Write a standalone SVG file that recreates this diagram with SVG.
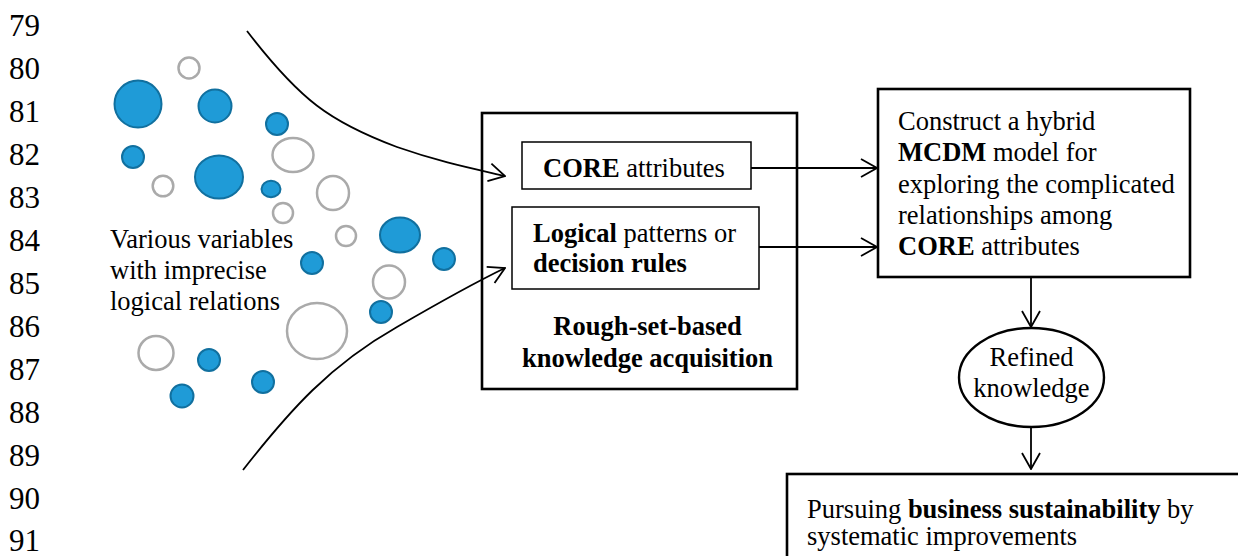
<svg xmlns="http://www.w3.org/2000/svg" width="1238" height="556" viewBox="0 0 1238 556" font-family="'Liberation Serif', 'Times New Roman', 'DejaVu Serif', serif">
  <style>
    text { fill: #000; }
    .ln { font-size: 31px; }
    .t { font-size: 26.5px; }
    .b { font-weight: bold; }
    .dot { fill: #1f9bd7; stroke: #11709f; stroke-width: 2; }
    .ring { fill: none; stroke: #aaaaaa; stroke-width: 2.5; }
    .thick { fill: #fff; stroke: #000; stroke-width: 2.6; }
    .thin { fill: #fff; stroke: #000; stroke-width: 1.5; }
    .conn { fill: none; stroke: #000; stroke-width: 1.8; marker-end: url(#arrow); }
  </style>
  <defs>
    <marker id="arrow" viewBox="0 0 18 20" refX="17" refY="10" markerWidth="18" markerHeight="20" markerUnits="userSpaceOnUse" orient="auto">
      <path d="M1,1 L17,10 L1,19" fill="none" stroke="#000" stroke-width="1.8"/>
    </marker>
  </defs>
  <rect width="1238" height="556" fill="#fff"/>

  <!-- line numbers -->
  <g id="line-numbers" font-family="Liberation Serif, serif">
    <text x="9" y="36" class="ln">79</text>
    <text x="9" y="79" class="ln">80</text>
    <text x="9" y="122" class="ln">81</text>
    <text x="9" y="165" class="ln">82</text>
    <text x="9" y="208" class="ln">83</text>
    <text x="9" y="251" class="ln">84</text>
    <text x="9" y="294" class="ln">85</text>
    <text x="9" y="337" class="ln">86</text>
    <text x="9" y="380" class="ln">87</text>
    <text x="9" y="423" class="ln">88</text>
    <text x="9" y="466" class="ln">89</text>
    <text x="9" y="509" class="ln">90</text>
    <text x="9" y="551" class="ln">91</text>
  </g>

  <!-- scattered variables -->
  <g id="variables" font-family="Liberation Serif, serif">
    <circle class="dot" cx="138" cy="104" r="23.5"/>
    <circle class="dot" cx="215" cy="106" r="16.5"/>
    <circle class="dot" cx="277" cy="124" r="11"/>
    <circle class="dot" cx="133" cy="157" r="11"/>
    <ellipse class="dot" cx="219" cy="177" rx="24" ry="21.5"/>
    <ellipse class="dot" cx="271" cy="189" rx="9.5" ry="8.2"/>
    <ellipse class="dot" cx="400" cy="235" rx="20" ry="17.5"/>
    <circle class="dot" cx="444" cy="259" r="11"/>
    <circle class="dot" cx="312" cy="263" r="11"/>
    <circle class="dot" cx="381" cy="312" r="11"/>
    <circle class="dot" cx="209" cy="360" r="11"/>
    <circle class="dot" cx="263" cy="382" r="11"/>
    <circle class="dot" cx="182" cy="396" r="11.5"/>

    <circle class="ring" cx="189" cy="68" r="10.5"/>
    <ellipse class="ring" cx="293" cy="155" rx="20.5" ry="17"/>
    <circle class="ring" cx="163" cy="186" r="10.3"/>
    <ellipse class="ring" cx="333" cy="193" rx="16" ry="17"/>
    <circle class="ring" cx="283" cy="213" r="10"/>
    <circle class="ring" cx="346" cy="236" r="10"/>
    <ellipse class="ring" cx="389" cy="282" rx="16" ry="16.5"/>
    <ellipse class="ring" cx="317" cy="331" rx="30" ry="28"/>
    <ellipse class="ring" cx="156" cy="353" rx="17.5" ry="17"/>

    <text class="t" x="110" y="248">Various variables</text>
    <text class="t" x="110" y="279">with imprecise</text>
    <text class="t" x="110" y="310">logical relations</text>
  </g>

  <!-- rough-set stage -->
  <g id="rough-set" font-family="Liberation Serif, serif">
    <rect class="thick" x="482" y="113" width="315" height="276"/>
    <text class="t b" x="647.5" y="335" text-anchor="middle">Rough-set-based</text>
    <text class="t b" x="647.5" y="367" text-anchor="middle">knowledge acquisition</text>
  </g>
  <g id="core-attributes" font-family="Liberation Serif, serif">
    <rect class="thin" x="522" y="142" width="229" height="47"/>
    <text class="t" x="543" y="177"><tspan class="b">CORE</tspan> attributes</text>
  </g>
  <g id="logical-patterns" font-family="Liberation Serif, serif">
    <rect class="thin" x="512" y="207" width="247" height="82"/>
    <text class="t" x="533" y="242"><tspan class="b">Logical</tspan> patterns or</text>
    <text class="t b" x="533" y="272">decision rules</text>
  </g>

  <!-- MCDM stage -->
  <g id="mcdm" font-family="Liberation Serif, serif">
    <rect class="thick" x="878" y="89" width="312" height="188"/>
    <text class="t" x="898" y="130">Construct a hybrid</text>
    <text class="t" x="898" y="161"><tspan class="b">MCDM</tspan> model for</text>
    <text class="t" x="898" y="193">exploring the complicated</text>
    <text class="t" x="898" y="224">relationships among</text>
    <text class="t" x="898" y="255"><tspan class="b">CORE</tspan> attributes</text>
  </g>

  <g id="refined-knowledge" font-family="Liberation Serif, serif">
    <ellipse cx="1031.5" cy="377.5" rx="72.5" ry="49.5" fill="#fff" stroke="#000" stroke-width="2.4"/>
    <text class="t" x="1031.5" y="366" text-anchor="middle">Refined</text>
    <text class="t" x="1031.5" y="397" text-anchor="middle">knowledge</text>
  </g>

  <g id="sustainability" font-family="Liberation Serif, serif">
    <rect class="thick" x="787" y="474" width="460" height="100"/>
    <text class="t" x="807" y="518">Pursuing <tspan class="b">business sustainability</tspan> by</text>
    <text class="t" x="807" y="545">systematic improvements</text>
  </g>

  <!-- connectors -->
  <g id="connectors">
    <path class="conn" d="M247,31 C300,100 330,122 397,147 C440,162 470,168 505,176"/>
    <path class="conn" d="M243,470 C290,410 330,365 397,327 C440,302 470,285 505,268"/>
    <path class="conn" d="M751,168 L877,168"/>
    <path class="conn" d="M759,247 L877,247"/>
    <path class="conn" d="M1031,277 L1031,327"/>
    <path class="conn" d="M1031,427 L1031,469"/>
  </g>
</svg>
